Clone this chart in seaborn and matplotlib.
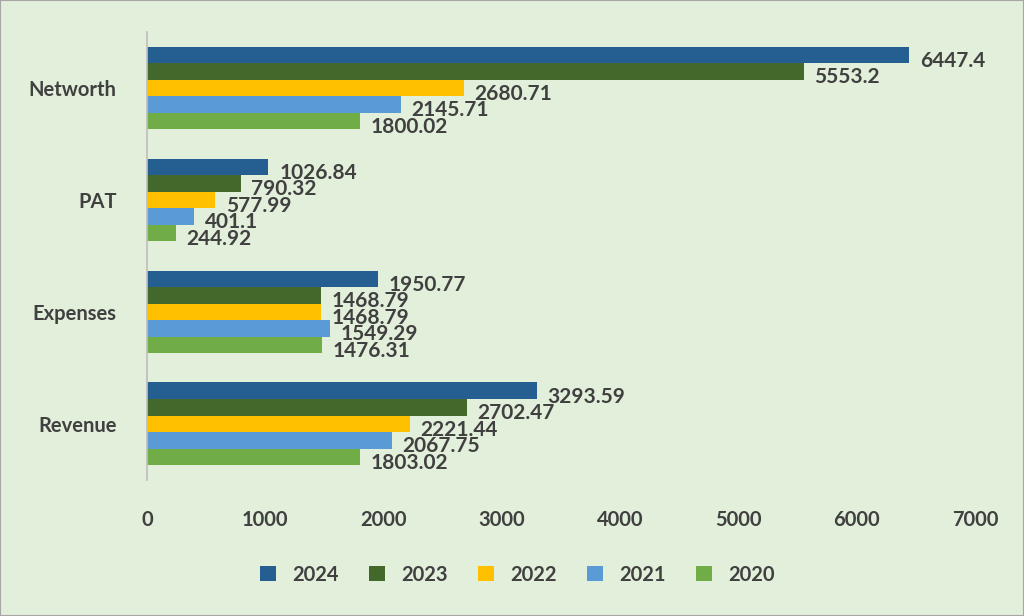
import matplotlib
matplotlib.use("Agg")
import matplotlib.pyplot as plt
import pandas as pd
import seaborn as sns

categories = ["Networth", "PAT", "Expenses", "Revenue"]
years = ["2024", "2023", "2022", "2021", "2020"]
values = {
    "2024": [6447.4, 1026.84, 1950.77, 3293.59],
    "2023": [5553.2, 790.32, 1468.79, 2702.47],
    "2022": [2680.71, 577.99, 1468.79, 2221.44],
    "2021": [2145.71, 401.1, 1549.29, 2067.75],
    "2020": [1800.02, 244.92, 1476.31, 1803.02],
}
colors = ["#255E91", "#43682B", "#FFC000", "#5B9BD5", "#70AD47"]

rows = [(c, y, values[y][i]) for y in years for i, c in enumerate(categories)]
df = pd.DataFrame(rows, columns=["metric", "year", "value"])

sns.set_theme(style="white")
plt.rcParams["font.family"] = ["Lato", "DejaVu Sans"]
bg = "#E2EFDA"
fig = plt.figure(figsize=(10.24, 6.16), dpi=100, facecolor=bg)
ax = fig.add_axes([0.1436, 0.221, 0.8084, 0.727])
ax.set_facecolor(bg)

sns.barplot(data=df, y="metric", x="value", hue="year", order=categories,
            hue_order=years, palette=colors, width=0.74, orient="h",
            saturation=1, ax=ax, linewidth=0)

for cont in ax.containers:
    for bar in cont:
        w = bar.get_width()
        ax.text(w + 90, bar.get_y() + bar.get_height() * 0.85, f"{w:g}",
                ha="left", va="center", fontsize=15, fontweight="bold", color="#404040")

ax.set_xlim(0, 7000)
ax.set_xticks(range(0, 7001, 1000))
ax.set_xlabel("")
ax.set_ylabel("")
ax.tick_params(axis="both", labelsize=14.5, colors="#404040", length=0)
ax.tick_params(axis="x", pad=22)
ax.tick_params(axis="y", pad=22)
for lbl in ax.get_xticklabels() + ax.get_yticklabels():
    lbl.set_fontweight("bold")
for s in ["top", "right", "bottom"]:
    ax.spines[s].set_visible(False)
ax.spines["left"].set_color("#BFBFBF")

ax.legend_.remove()
handles, labels = ax.get_legend_handles_labels()
fig.legend(handles, labels, loc="center", bbox_to_anchor=(0.505, 0.067), ncol=5,
           frameon=False, prop={"size": 14.5, "weight": "bold"}, handlelength=0.8,
           handleheight=0.8, columnspacing=1.5, labelcolor="#404040")

fig.patches.append(plt.Rectangle((0, 0), 1, 1, transform=fig.transFigure,
                                 fill=False, edgecolor="#A6A6A6", linewidth=1.5))
fig.savefig("out.png", dpi=100, facecolor=bg)
